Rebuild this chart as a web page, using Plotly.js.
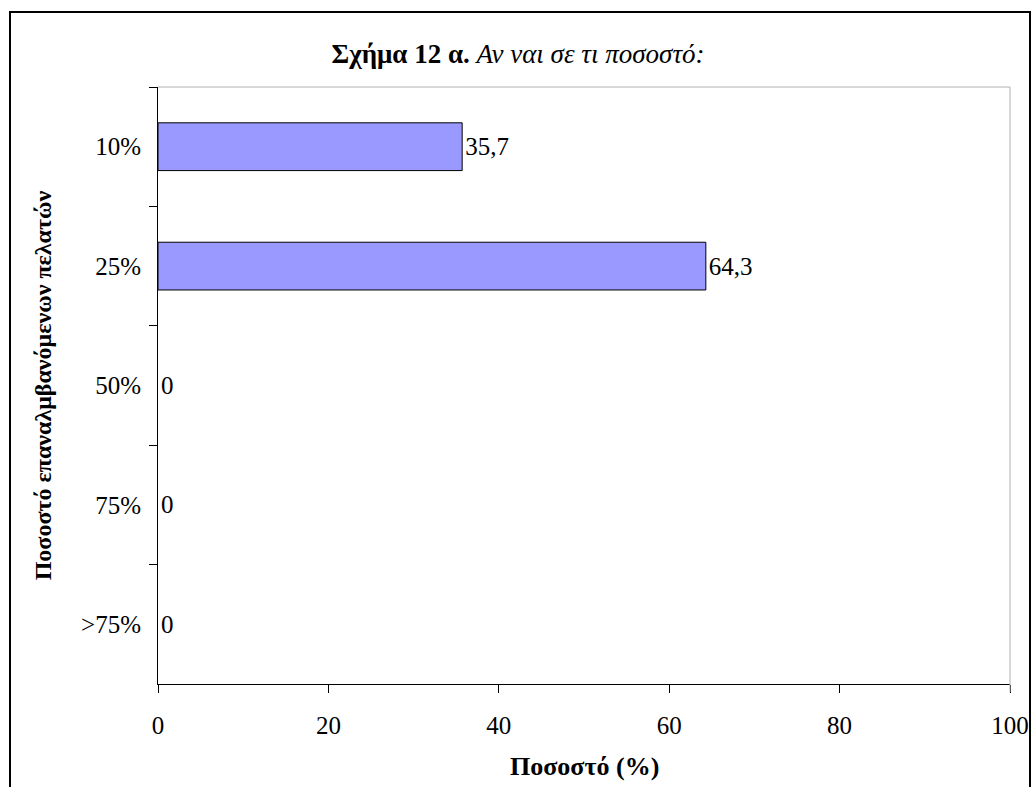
<!DOCTYPE html>
<html>
<head>
<meta charset="utf-8">
<script src="https://cdn.plot.ly/plotly-3.0.1.min.js"></script>
<style>html,body{margin:0;padding:0;background:#fff;}</style>
</head>
<body>
<div id="chart" style="width:1032px;height:787px;"></div>
<script>
const categories = ['10%', '25%', '50%', '75%', '>75%'];
const values = [35.7, 64.3, 0, 0, 0];
const labels = values.map(v => String(v).replace('.', ','));
const xTicks = [0, 20, 40, 60, 80, 100];

const FONT = '"Liberation Serif", "Times New Roman", Times, serif';

const trace = {
  type: 'bar',
  orientation: 'h',
  y: categories,
  x: values,
  text: labels,
  textposition: 'outside',
  textfont: {family: FONT, size: 25, color: '#000'},
  cliponaxis: false,
  width: 0.4,
  marker: {color: '#9999FF', line: {color: '#000', width: values.map(v => v > 0 ? 1 : 0)}},
  hoverinfo: 'none'
};

const L = 158, R = 1010, T = 87, B = 684;
const px = v => (v - L) / (R - L);
const py = v => (B - v) / (B - T);

const layout = {
  width: 1032,
  height: 787,
  margin: {l: L, r: 1032 - R, t: T, b: 787 - B},
  paper_bgcolor: '#fff',
  plot_bgcolor: '#fff',
  font: {family: FONT, size: 25, color: '#000'},
  showlegend: false,
  title: {
    text: '<b>Σχήμα 12 α.</b> <i>Αν ναι σε τι ποσοστό:</i>',
    font: {family: FONT, size: 27, color: '#000'},
    xref: 'container', x: 0.502, xanchor: 'center',
    yref: 'container', y: 1 - 54 / 787, yanchor: 'middle'
  },
  xaxis: {
    range: [0, 100],
    tickvals: xTicks,
    ticktext: xTicks.map(String),
    ticks: 'outside', ticklen: 8, tickcolor: '#000', tickwidth: 1,
    ticklabelstandoff: 11,
    showline: true, linecolor: '#000', linewidth: 1,
    showgrid: false, zeroline: false,
    tickfont: {family: FONT, size: 25, color: '#000'},
    fixedrange: true
  },
  yaxis: {
    type: 'category',
    categoryorder: 'array',
    categoryarray: categories,
    autorange: 'reversed',
    ticks: 'outside', tickson: 'boundaries', ticklen: 8, tickcolor: '#000', tickwidth: 1,
    ticklabelstandoff: 11,
    showline: true, linecolor: '#000', linewidth: 1,
    showgrid: false, zeroline: false,
    tickfont: {family: FONT, size: 25, color: '#000'},
    title: {text: '<b>Ποσοστό επαναλμβανόμενων πελατών</b>', font: {family: FONT, size: 24, color: '#000'}, standoff: 22},
    fixedrange: true
  },
  annotations: [
    {text: '<b>Ποσοστό (%)</b>', xref: 'paper', yref: 'paper', x: px(584), y: py(767),
     xanchor: 'center', yanchor: 'middle', showarrow: false,
     font: {family: FONT, size: 26, color: '#000'}}
  ],
  shapes: [
    {type: 'line', xref: 'paper', yref: 'paper', x0: 0, x1: 1, y0: 1, y1: 1, line: {color: '#b0b0b0', width: 1}},
    {type: 'line', xref: 'paper', yref: 'paper', x0: 1, x1: 1, y0: py(692), y1: 1, line: {color: '#b0b0b0', width: 1}},
    {type: 'rect', xref: 'paper', yref: 'paper', x0: px(10), x1: px(1030), y0: py(830), y1: py(12), line: {color: '#000', width: 2}, fillcolor: 'rgba(0,0,0,0)', layer: 'above'}
  ]
};

Plotly.newPlot('chart', [trace], layout, {displayModeBar: false, staticPlot: true});
</script>
</body>
</html>
